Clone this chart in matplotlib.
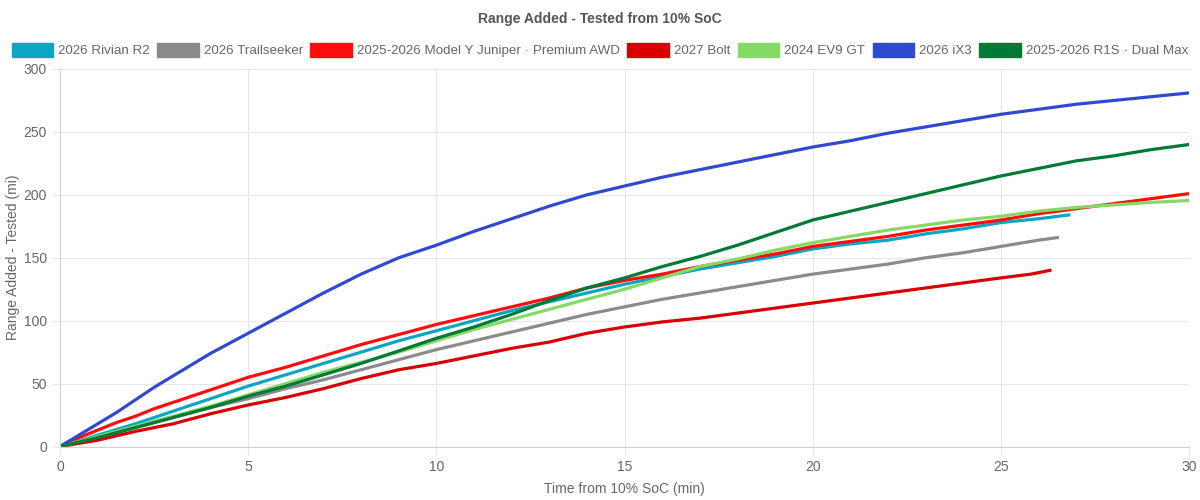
import matplotlib.pyplot as plt
from matplotlib.patches import Patch

plt.rcParams['font.family'] = ['Liberation Sans', 'DejaVu Sans']

# time (min) and range added (mi) per car
r2_t = [0, 1, 2, 3, 4, 5, 6, 7, 8, 9, 10, 11, 12, 13, 14, 15, 16, 17, 18, 19, 20, 21, 22, 23, 24, 25, 26, 26.8]
r2_v = [0, 9, 18, 28, 38, 48, 57, 66, 75, 84, 92, 100, 108, 115, 122, 129, 135, 141, 146, 151, 157, 161, 164, 169, 173, 178, 181, 184]

trail_t = [0, 1, 2, 3, 4, 5, 6, 7, 8, 9, 10, 11, 12, 13, 14, 15, 16, 17, 18, 19, 20, 21, 22, 23, 24, 25, 26, 26.5]
trail_v = [0, 7, 15, 23, 31, 38, 46, 53, 61, 69, 77, 84, 91, 98, 105, 111, 117, 122, 127, 132, 137, 141, 145, 150, 154, 159, 164, 166]

my_t = [0, 0.5, 1, 1.5, 2, 2.5, 3, 4, 5, 6, 7, 8, 9, 10, 11, 12, 13, 14, 15, 16, 17, 18, 19, 20, 21, 22, 23, 24, 25, 26, 27, 28, 29, 30]
my_v = [0, 7, 13, 19, 24, 30, 35, 45, 55, 63, 72, 81, 89, 97, 104, 111, 118, 126, 132, 137, 143, 148, 153, 159, 163, 167, 172, 176, 180, 185, 189, 193, 197, 201]

bolt_t = [0, 1, 2, 3, 4, 5, 6, 7, 8, 9, 10, 11, 12, 13, 14, 15, 16, 17, 18, 19, 20, 21, 22, 23, 24, 25, 25.8, 26.3]
bolt_v = [0, 5, 12, 18, 26, 33, 39, 46, 54, 61, 66, 72, 78, 83, 90, 95, 99, 102, 106, 110, 114, 118, 122, 126, 130, 134, 137, 140]

ev9_t = [0, 1, 2, 3, 4, 5, 6, 7, 8, 9, 10, 11, 12, 13, 14, 15, 16, 17, 18, 19, 20, 21, 22, 23, 24, 25, 26, 27, 28, 29, 30]
ev9_v = [0, 8, 16, 24, 32, 41, 50, 59, 67, 75, 84, 93, 101, 109, 117, 125, 134, 143, 149, 156, 162, 167, 172, 176, 180, 183, 187, 190, 192, 194, 195.5]

ix3_t = [0, 0.5, 1, 1.5, 2, 2.5, 3, 3.5, 4, 5, 6, 7, 8, 9, 10, 11, 12, 13, 14, 15, 16, 17, 18, 19, 20, 21, 22, 23, 24, 25, 26, 27, 28, 29, 30]
ix3_v = [0, 9, 18, 27, 37, 47, 56, 65, 74, 90, 106, 122, 137, 150, 160, 171, 181, 191, 200, 207, 214, 220, 226, 232, 238, 243, 249, 254, 259, 264, 268, 272, 275, 278, 281]

r1s_t = [0, 1, 2, 3, 4, 5, 6, 7, 8, 9, 10, 11, 12, 13, 14, 15, 16, 17, 18, 19, 20, 21, 22, 23, 24, 25, 26, 27, 28, 29, 30]
r1s_v = [0, 7, 15, 23, 31, 40, 48, 57, 66, 76, 86, 95, 105, 116, 126, 134, 143, 151, 160, 170, 180, 187, 194, 201, 208, 215, 221, 227, 231, 236, 240]

names = ["2026 Rivian R2", "2026 Trailseeker", "2025-2026 Model Y Juniper · Premium AWD",
         "2027 Bolt", "2024 EV9 GT", "2026 iX3", "2025-2026 R1S · Dual Max"]
colors = ["#0aa6c4", "#8c8a8c", "#ff0d0d", "#d90000", "#85d966", "#3049d1", "#007a35"]
series = [(r2_t, r2_v), (trail_t, trail_v), (my_t, my_v), (bolt_t, bolt_v),
          (ev9_t, ev9_v), (ix3_t, ix3_v), (r1s_t, r1s_v)]

fig = plt.figure(figsize=(12, 5), dpi=100)
ax = fig.add_axes([0.05, 0.107, 0.941, 0.755])

for (t, v), c in zip(series, colors):
    ax.plot(t, v, color=c, linewidth=2.3, solid_joinstyle='round')

ax.set_xlim(0, 30)
ax.set_ylim(0, 300)
ax.set_xticks(range(0, 31, 5))
ax.set_yticks(range(0, 301, 50))
ax.grid(True, color="#e6e6e6", linewidth=0.8)
ax.set_axisbelow(True)
for s in ["top", "right"]:
    ax.spines[s].set_visible(False)
for s in ["left", "bottom"]:
    ax.spines[s].set_color("#d0d0d0")
ax.tick_params(colors="#666666", labelsize=10, length=6)
ax.tick_params(axis="both", color="#e6e6e6")
ax.set_xlabel("Time from 10% SoC (min)", color="#666666", fontsize=10, labelpad=6)
ax.set_ylabel("Range Added - Tested (mi)", color="#666666", fontsize=10)
ax.yaxis.set_label_coords(-0.035, 0.5)

fig.text(0.5, 0.963, "Range Added - Tested from 10% SoC", ha="center", va="center",
         fontsize=10, fontweight="bold", color="#555555")

handles = [Patch(facecolor=c, edgecolor=c) for c in colors]
fig.legend(handles, names, loc="center", bbox_to_anchor=(0.5, 0.9), ncol=7,
           frameon=False, fontsize=9.6, handlelength=3.1, handleheight=1.2,
           handletextpad=0.4, columnspacing=0.55, labelcolor="#666666")

fig.savefig("out.png", dpi=100)
